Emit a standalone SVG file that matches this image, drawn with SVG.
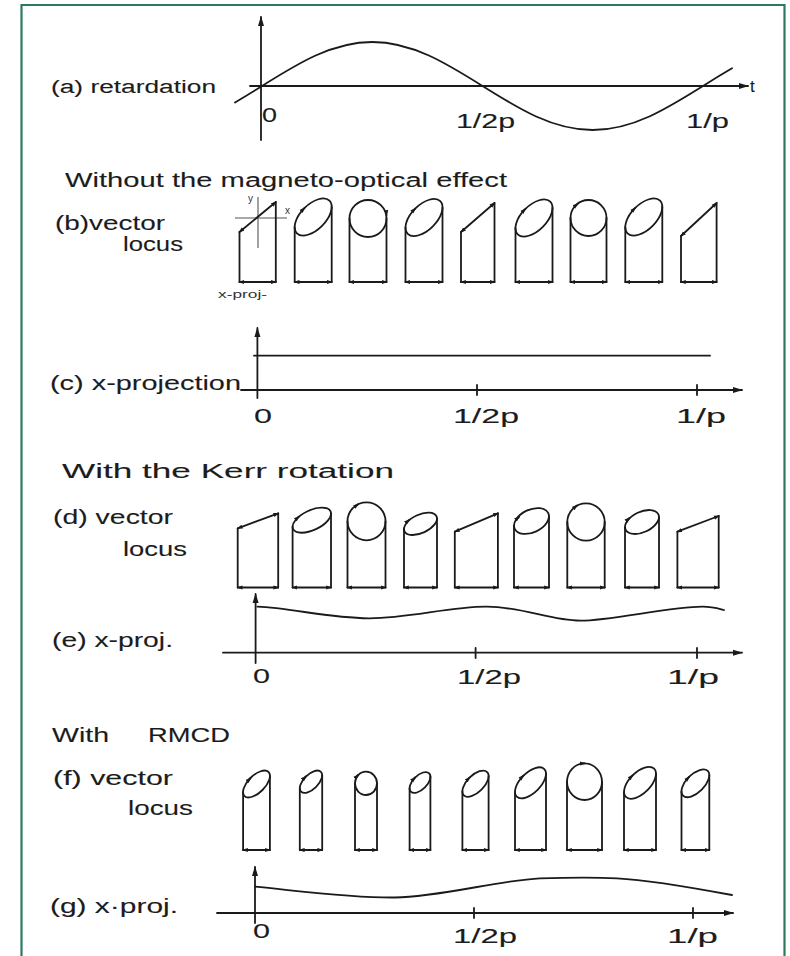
<svg xmlns="http://www.w3.org/2000/svg" width="790" height="956" viewBox="0 0 790 956">
<defs>
<style>
.ln{fill:none;stroke:#1a1a1a;stroke-width:1.8;stroke-linecap:round;stroke-linejoin:round}
.th{fill:none;stroke:#555;stroke-width:1.1}
.tx{font-family:"Liberation Sans",Arial,sans-serif;font-size:20px;fill:#1c1c1c;stroke:#1c1c1c;stroke-width:0.1}
.sm{font-family:"Liberation Sans",Arial,sans-serif;font-size:10px;fill:#333}
</style>
<marker id="ah" viewBox="0 0 10 10" refX="8" refY="5" markerWidth="6" markerHeight="6" markerUnits="userSpaceOnUse" orient="auto-start-reverse"><path d="M0,1.5 L10,5 L0,8.5 z" fill="#1a1a1a"/></marker>
<marker id="ax" viewBox="0 0 10 10" refX="9" refY="5" markerWidth="10" markerHeight="10" markerUnits="userSpaceOnUse" orient="auto-start-reverse"><path d="M0,2 L10,5 L0,8 z" fill="#1a1a1a"/></marker>
</defs>
<rect width="790" height="956" fill="#fff"/>
<path d="M21.5,960 V5 H784.5 V960" fill="none" stroke="#2b7a5e" stroke-width="2.2"/>

<g id="panel-a">
<text class="tx" x="51" y="93" style="font-size:18px" textLength="165" lengthAdjust="spacingAndGlyphs">(a) retardation</text>
<path class="ln" d="M250,86 H748" marker-end="url(#ax)"/>
<path class="ln" d="M261,140 V17" marker-end="url(#ax)"/>
<path class="ln" d="M235,102.6 Q248.5,94.5 262,86 C297.95,63.46 332.35,42 372.25,42 C412.15,42 446.55,63.46 482.5,86 C518.45,108.54 552.85,130 592.75,130 C632.65,130 667.05,108.54 703,86 Q717.6,76.8 732,68.3"/>
<text class="tx" x="750" y="92" style="font-size:17px">t</text>
<text class="tx" x="262" y="122" textLength="15" lengthAdjust="spacingAndGlyphs">0</text>
<text class="tx" x="456" y="128" textLength="59" lengthAdjust="spacingAndGlyphs">1/2p</text>
<text class="tx" x="686" y="128" textLength="43" lengthAdjust="spacingAndGlyphs">1/p</text>
</g>

<g id="heading-1">
<text class="tx" x="65" y="187" textLength="442" lengthAdjust="spacingAndGlyphs">Without the magneto-optical effect</text>
</g>

<g id="panel-b">
<text class="tx" x="55" y="230" textLength="110" lengthAdjust="spacingAndGlyphs">(b)vector</text>
<text class="tx" x="123" y="251" textLength="60" lengthAdjust="spacingAndGlyphs">locus</text>
<g id="b1">
<path class="th" d="M235,218 H287 M258,197 V248"/>
<text class="sm" x="248" y="202">y</text>
<text class="sm" x="285" y="214">x</text>
<path class="ln" d="M239.5,232 L275.8,202" marker-start="url(#ah)" marker-end="url(#ah)"/>
<path class="ln" d="M239.5,232 V282 M275.8,202 V282"/>
<path class="ln" d="M239.5,282 H275.8" marker-start="url(#ah)" marker-end="url(#ah)"/>
<text class="sm" x="218" y="298" textLength="49" lengthAdjust="spacingAndGlyphs">x-proj-</text>
</g>
<g id="b2">
<ellipse class="ln" cx="313.2" cy="217" rx="23" ry="12.5" transform="rotate(-45 313.2 217)"/>
<path class="ln" d="M302.4,210.2 L304.4,208.2" marker-end="url(#ah)"/>
<path class="ln" d="M294.7,227.1 V282 M331.7,206.9 V282"/>
<path class="ln" d="M294.7,282 H331.7" marker-start="url(#ah)" marker-end="url(#ah)"/>
</g>
<g id="b3">
<circle class="ln" cx="368" cy="218.5" r="18.5"/>
<path class="ln" d="M386.3,212 L386.5,215" marker-end="url(#ah)"/>
<path class="ln" d="M349.5,218.5 V282 M386.5,218.5 V282"/>
<path class="ln" d="M349.5,282 H386.5" marker-start="url(#ah)" marker-end="url(#ah)"/>
</g>
<g id="b4">
<ellipse class="ln" cx="424" cy="217.5" rx="23" ry="12.5" transform="rotate(-45 424 217.5)"/>
<path class="ln" d="M413.2,210.7 L415.2,208.7" marker-end="url(#ah)"/>
<path class="ln" d="M405.5,227.6 V282 M442.5,207.4 V282"/>
<path class="ln" d="M405.5,282 H442.5" marker-start="url(#ah)" marker-end="url(#ah)"/>
</g>
<g id="b5">
<path class="ln" d="M461,232 L494.5,203" marker-start="url(#ah)" marker-end="url(#ah)"/>
<path class="ln" d="M461,232 V282 M494.5,203 V282"/>
<path class="ln" d="M461,282 H494.5" marker-start="url(#ah)" marker-end="url(#ah)"/>
</g>
<g id="b6">
<ellipse class="ln" cx="534" cy="218" rx="23" ry="12.5" transform="rotate(-45 534 218)"/>
<path class="ln" d="M523.2,211.2 L525.2,209.2" marker-end="url(#ah)"/>
<path class="ln" d="M515.5,228.1 V282 M552.5,207.9 V282"/>
<path class="ln" d="M515.5,282 H552.5" marker-start="url(#ah)" marker-end="url(#ah)"/>
</g>
<g id="b7">
<circle class="ln" cx="588.5" cy="218" r="18"/>
<path class="ln" d="M575,206 L577.5,204" marker-end="url(#ah)"/>
<path class="ln" d="M570.5,218 V282 M606.5,218 V282"/>
<path class="ln" d="M570.5,282 H606.5" marker-start="url(#ah)" marker-end="url(#ah)"/>
</g>
<g id="b8">
<ellipse class="ln" cx="643.8" cy="217" rx="23" ry="12.5" transform="rotate(-45 643.8 217)"/>
<path class="ln" d="M633,210.2 L635,208.2" marker-end="url(#ah)"/>
<path class="ln" d="M625.3,227.1 V282 M662.3,206.9 V282"/>
<path class="ln" d="M625.3,282 H662.3" marker-start="url(#ah)" marker-end="url(#ah)"/>
</g>
<g id="b9">
<path class="ln" d="M681,236 L716.6,203" marker-start="url(#ah)" marker-end="url(#ah)"/>
<path class="ln" d="M681,236 V282 M716.6,203 V282"/>
<path class="ln" d="M681,282 H716.6" marker-start="url(#ah)" marker-end="url(#ah)"/>
</g>
</g>

<g id="panel-c">
<text class="tx" x="50" y="390" textLength="191" lengthAdjust="spacingAndGlyphs">(c) x-projection</text>
<path class="ln" d="M241,390 H742" marker-end="url(#ax)"/>
<path class="ln" d="M257.4,398 V328" marker-end="url(#ax)"/>
<path class="ln" d="M477,385 V395 M697,385 V395"/>
<path class="ln" d="M254,355.7 H710"/>
<text class="tx" x="254" y="423" textLength="18" lengthAdjust="spacingAndGlyphs">0</text>
<text class="tx" x="453" y="423" textLength="66" lengthAdjust="spacingAndGlyphs">1/2p</text>
<text class="tx" x="676" y="423" textLength="50" lengthAdjust="spacingAndGlyphs">1/p</text>
</g>

<g id="heading-2">
<text class="tx" x="62" y="478" textLength="332" lengthAdjust="spacingAndGlyphs">With the Kerr rotation</text>
</g>

<g id="panel-d">
<text class="tx" x="53" y="524" textLength="120" lengthAdjust="spacingAndGlyphs">(d) vector</text>
<text class="tx" x="123" y="556" textLength="64" lengthAdjust="spacingAndGlyphs">locus</text>
<g id="d1">
<path class="ln" d="M237.7,528.3 L278.2,513.3" marker-start="url(#ah)" marker-end="url(#ah)"/>
<path class="ln" d="M237.7,528.3 V587.5 M278.2,513.3 V587.5"/>
<path class="ln" d="M237.7,587.5 H278.2" marker-start="url(#ah)" marker-end="url(#ah)"/>
</g>
<g id="d2">
<ellipse class="ln" cx="311.8" cy="520.2" rx="20.7" ry="9.9" transform="rotate(-25 311.8 520.2)"/>
<path class="ln" d="M297.3,518.1 L298.8,516.8" marker-end="url(#ah)"/>
<path class="ln" d="M292.6,526.8 V587.5 M331,513.6 V587.5"/>
<path class="ln" d="M292.6,587.5 H331" marker-start="url(#ah)" marker-end="url(#ah)"/>
</g>
<g id="d3">
<circle class="ln" cx="366.5" cy="521.3" r="19"/>
<path class="ln" d="M355,506.5 L358,504.2" marker-end="url(#ah)"/>
<path class="ln" d="M347.5,521.3 V587.5 M385.5,521.3 V587.5"/>
<path class="ln" d="M347.5,587.5 H385.5" marker-start="url(#ah)" marker-end="url(#ah)"/>
</g>
<g id="d4">
<ellipse class="ln" cx="420.5" cy="523.8" rx="17.7" ry="9.2" transform="rotate(-25 420.5 523.8)"/>
<path class="ln" d="M407.5,521.3 L409,520" marker-end="url(#ah)"/>
<path class="ln" d="M404,529.1 V587.5 M437,518.5 V587.5"/>
<path class="ln" d="M404,587.5 H437" marker-start="url(#ah)" marker-end="url(#ah)"/>
</g>
<g id="d5">
<path class="ln" d="M454.8,531.7 L497.9,513.3" marker-start="url(#ah)" marker-end="url(#ah)"/>
<path class="ln" d="M454.8,531.7 V587.5 M497.9,513.3 V587.5"/>
<path class="ln" d="M454.8,587.5 H497.9" marker-start="url(#ah)" marker-end="url(#ah)"/>
</g>
<g id="d6">
<ellipse class="ln" cx="531.5" cy="521" rx="18.5" ry="11.4" transform="rotate(-25 531.5 521)"/>
<path class="ln" d="M517.5,518.3 L519,517" marker-end="url(#ah)"/>
<path class="ln" d="M514,525.7 V587.5 M549,516.3 V587.5"/>
<path class="ln" d="M514,587.5 H549" marker-start="url(#ah)" marker-end="url(#ah)"/>
</g>
<g id="d7">
<circle class="ln" cx="586" cy="522" r="18.7"/>
<path class="ln" d="M574.5,507.5 L577,505.5" marker-end="url(#ah)"/>
<path class="ln" d="M567.3,522 V587.5 M604.7,522 V587.5"/>
<path class="ln" d="M567.3,587.5 H604.7" marker-start="url(#ah)" marker-end="url(#ah)"/>
</g>
<g id="d8">
<ellipse class="ln" cx="642" cy="522" rx="18.1" ry="10.2" transform="rotate(-25 642 522)"/>
<path class="ln" d="M628,519.3 L629.5,518" marker-end="url(#ah)"/>
<path class="ln" d="M625,527.1 V587.5 M659,516.9 V587.5"/>
<path class="ln" d="M625,587.5 H659" marker-start="url(#ah)" marker-end="url(#ah)"/>
</g>
<g id="d9">
<path class="ln" d="M677.4,531.7 L718.7,516" marker-start="url(#ah)" marker-end="url(#ah)"/>
<path class="ln" d="M677.4,531.7 V587.5 M718.7,516 V587.5"/>
<path class="ln" d="M677.4,587.5 H718.7" marker-start="url(#ah)" marker-end="url(#ah)"/>
</g>
</g>

<g id="panel-e">
<text class="tx" x="52" y="647" textLength="121" lengthAdjust="spacingAndGlyphs">(e) x-proj.</text>
<path class="ln" d="M223,652.7 H742" marker-end="url(#ax)"/>
<path class="ln" d="M255.6,663 V594" marker-end="url(#ax)"/>
<path class="ln" d="M475.6,648 V658 M697,648 V658"/>
<path class="ln" d="M257.4,606.7 C290,608 330,618 368.7,618.3 S450,606.5 487,606.7 S550,620.7 580.5,620.7 S670,606.7 702.5,606.7 C712,606.7 718,608.5 724,610"/>
<text class="tx" x="253" y="683" textLength="17" lengthAdjust="spacingAndGlyphs">0</text>
<text class="tx" x="457" y="684" textLength="64" lengthAdjust="spacingAndGlyphs">1/2p</text>
<text class="tx" x="667" y="684" textLength="52" lengthAdjust="spacingAndGlyphs">1/p</text>
</g>

<g id="heading-3">
<text class="tx" x="52" y="742" textLength="57" lengthAdjust="spacingAndGlyphs">With</text>
<text class="tx" x="148" y="742" textLength="82" lengthAdjust="spacingAndGlyphs">RMCD</text>
</g>

<g id="panel-f">
<text class="tx" x="53" y="785" textLength="120" lengthAdjust="spacingAndGlyphs">(f) vector</text>
<text class="tx" x="128" y="815" textLength="65" lengthAdjust="spacingAndGlyphs">locus</text>
<g id="f1">
<ellipse class="ln" cx="256.5" cy="784" rx="17" ry="8.5" transform="rotate(-45 256.5 784)"/>
<path class="ln" d="M249,779.5 L250.5,778" marker-end="url(#ah)"/>
<path class="ln" d="M243.1,792.1 V850 M269.9,775.9 V850"/>
<path class="ln" d="M243.1,850 H269.9" marker-start="url(#ah)" marker-end="url(#ah)"/>
</g>
<g id="f2">
<ellipse class="ln" cx="311" cy="781.7" rx="14" ry="7.3" transform="rotate(-45 311 781.7)"/>
<path class="ln" d="M304.3,778 L305.8,776.5" marker-end="url(#ah)"/>
<path class="ln" d="M299.8,788.1 V850 M322.2,775.3 V850"/>
<path class="ln" d="M299.8,850 H322.2" marker-start="url(#ah)" marker-end="url(#ah)"/>
</g>
<g id="f3">
<ellipse class="ln" cx="366" cy="783.3" rx="11" ry="11.7"/>
<path class="ln" d="M356.5,776.5 L358,775" marker-end="url(#ah)"/>
<path class="ln" d="M355,783.3 V850 M377,783.3 V850"/>
<path class="ln" d="M355,850 H377" marker-start="url(#ah)" marker-end="url(#ah)"/>
</g>
<g id="f4">
<ellipse class="ln" cx="420" cy="782.5" rx="13" ry="7" transform="rotate(-45 420 782.5)"/>
<path class="ln" d="M413.5,779 L415,777.5" marker-end="url(#ah)"/>
<path class="ln" d="M409.6,788.3 V850 M430.4,776.8 V850"/>
<path class="ln" d="M409.6,850 H430.4" marker-start="url(#ah)" marker-end="url(#ah)"/>
</g>
<g id="f5">
<ellipse class="ln" cx="475.5" cy="783.7" rx="16.5" ry="8.5" transform="rotate(-45 475.5 783.7)"/>
<path class="ln" d="M468,779.2 L469.5,777.7" marker-end="url(#ah)"/>
<path class="ln" d="M462.4,791.3 V850 M488.6,776.1 V850"/>
<path class="ln" d="M462.4,850 H488.6" marker-start="url(#ah)" marker-end="url(#ah)"/>
</g>
<g id="f6">
<ellipse class="ln" cx="530.5" cy="782.8" rx="19.5" ry="10" transform="rotate(-45 530.5 782.8)"/>
<path class="ln" d="M521.9,777.2 L523.4,775.7" marker-end="url(#ah)"/>
<path class="ln" d="M515,791.8 V850 M546,773.8 V850"/>
<path class="ln" d="M515,850 H546" marker-start="url(#ah)" marker-end="url(#ah)"/>
</g>
<g id="f7">
<ellipse class="ln" cx="584.5" cy="781.7" rx="17.5" ry="18.3"/>
<path class="ln" d="M582,763.4 L584.5,763.4" marker-end="url(#ah)"/>
<path class="ln" d="M567,781.7 V850 M602,781.7 V850"/>
<path class="ln" d="M567,850 H602" marker-start="url(#ah)" marker-end="url(#ah)"/>
</g>
<g id="f8">
<ellipse class="ln" cx="640" cy="782.8" rx="20" ry="10.5" transform="rotate(-45 640 782.8)"/>
<path class="ln" d="M631.1,776.9 L632.6,775.4" marker-end="url(#ah)"/>
<path class="ln" d="M624,791.9 V850 M656,773.7 V850"/>
<path class="ln" d="M624,850 H656" marker-start="url(#ah)" marker-end="url(#ah)"/>
</g>
<g id="f9">
<ellipse class="ln" cx="695.4" cy="783.3" rx="17.5" ry="9" transform="rotate(-45 695.4 783.3)"/>
<path class="ln" d="M687.5,778.5 L689,777" marker-end="url(#ah)"/>
<path class="ln" d="M681.5,791.4 V850 M709.3,775.2 V850"/>
<path class="ln" d="M681.5,850 H709.3" marker-start="url(#ah)" marker-end="url(#ah)"/>
</g>
</g>

<g id="panel-g">
<text class="tx" x="50" y="913" textLength="128" lengthAdjust="spacingAndGlyphs">(g) x·proj.</text>
<path class="ln" d="M217,913 H733" marker-end="url(#ax)"/>
<path class="ln" d="M255,923 V867" marker-end="url(#ax)"/>
<path class="ln" d="M474,908 V918 M693,908 V918"/>
<path class="ln" d="M255,886.7 C300,891 350,898 395,897.5 C440,897 500,880 540,878.3 C570,877.5 600,877.5 617,878.3 C650,880 700,889 732,895"/>
<text class="tx" x="253" y="938" textLength="17" lengthAdjust="spacingAndGlyphs">0</text>
<text class="tx" x="453" y="943" textLength="64" lengthAdjust="spacingAndGlyphs">1/2p</text>
<text class="tx" x="667" y="943" textLength="51" lengthAdjust="spacingAndGlyphs">1/p</text>
</g>
</svg>
